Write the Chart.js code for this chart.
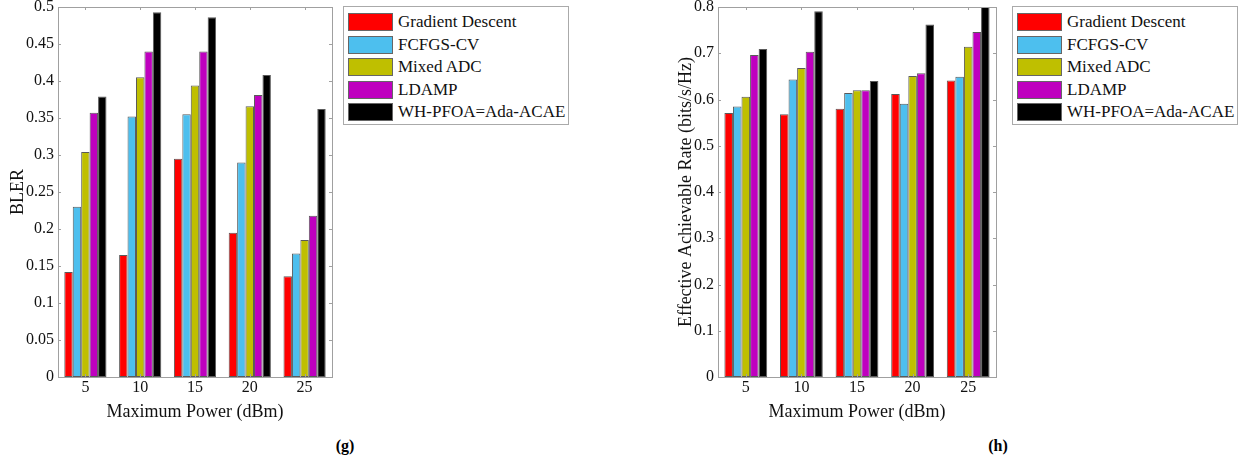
<!DOCTYPE html>
<html>
<head>
<meta charset="utf-8">
<script src="https://cdn.jsdelivr.net/npm/chart.js@4/dist/chart.umd.min.js"></script>
<style>
body { margin: 0; background: #fff; font-family: "Liberation Serif", serif; }
#page { position: relative; width: 1241px; height: 460px; }
.box { position: absolute; }
.legend { position: absolute; border: 1px solid #aaa; background: #fff; box-sizing: border-box; }
.row { position: absolute; left: 4px; height: 18px; display: flex; align-items: center; }
.sw { width: 45px; height: 18px; box-sizing: border-box; border: 1px solid #666; margin-right: 5px; }
.row span { font-size: 17px; color: #111; white-space: nowrap; }
.cap { position: absolute; font-weight: bold; font-size: 16px; line-height: 18px; transform: translateX(-50%); }
</style>
</head>
<body>
<div id="page">
  <div class="box" style="left:0;top:0;width:340px;height:425px"><canvas id="blerChart"></canvas></div>
  <div class="box" style="left:660px;top:0;width:340px;height:425px"><canvas id="rateChart"></canvas></div>
  <div class="legend" id="legendG" style="left:343px;top:6px;width:226px;height:119px"></div>
  <div class="legend" id="legendH" style="left:1012px;top:6px;width:226px;height:119px"></div>
  <div class="cap" style="left:345px;top:437px">(g)</div>
  <div class="cap" style="left:998px;top:437px">(h)</div>
</div>
<script>
// data
const powers = ["5", "10", "15", "20", "25"];
const methods = ["Gradient Descent", "FCFGS-CV", "Mixed ADC", "LDAMP", "WH-PFOA=Ada-ACAE"];
const colors = ["#ff0000", "#4dbfee", "#bfbf00", "#bf00bf", "#000000"];

// BLER (g)
const blerGD    = [0.142, 0.165, 0.295, 0.195, 0.136];
const blerFCFGS = [0.230, 0.352, 0.355, 0.290, 0.167];
const blerMixed = [0.304, 0.405, 0.394, 0.366, 0.185];
const blerLDAMP = [0.357, 0.440, 0.440, 0.381, 0.218];
const blerWH    = [0.379, 0.493, 0.486, 0.408, 0.362];

// Effective achievable rate (h)
const rateGD    = [0.571, 0.568, 0.580, 0.612, 0.641];
const rateFCFGS = [0.585, 0.643, 0.614, 0.591, 0.649];
const rateMixed = [0.606, 0.668, 0.620, 0.651, 0.714];
const rateLDAMP = [0.696, 0.703, 0.620, 0.657, 0.746];
const rateWH    = [0.709, 0.791, 0.640, 0.762, 0.800];

const serif = "'Liberation Serif', 'Times New Roman', serif";

// matlab style box with inward ticks
const framePlugin = {
    id: "frame",
    afterDraw(chart) {
        const ctx = chart.ctx;
        const a = chart.chartArea;
        const xs = chart.scales.x;
        const ys = chart.scales.y;
        ctx.save();
        ctx.strokeStyle = "#a0a0a0";
        ctx.lineWidth = 1;
        ctx.strokeRect(Math.round(a.left) + 0.5, Math.round(a.top) + 0.5,
            Math.round(a.right - a.left), Math.round(a.bottom - a.top));
        ctx.beginPath();
        xs.ticks.forEach((t, i) => {
            const px = Math.round(xs.getPixelForTick(i)) + 0.5;
            ctx.moveTo(px, a.bottom); ctx.lineTo(px, a.bottom - 3);
            ctx.moveTo(px, a.top); ctx.lineTo(px, a.top + 3);
        });
        ys.ticks.forEach(t => {
            const py = Math.round(ys.getPixelForValue(t.value)) + 0.5;
            ctx.moveTo(a.left, py); ctx.lineTo(a.left + 3, py);
            ctx.moveTo(a.right, py); ctx.lineTo(a.right - 3, py);
        });
        ctx.stroke();
        ctx.restore();
    }
};

function makeDatasets(series) {
    return series.map((vals, i) => ({
        label: methods[i],
        data: vals,
        backgroundColor: colors[i],
        borderColor: "#5a5a5a",
        borderWidth: 1,
        borderSkipped: false,
        barPercentage: 1,
        categoryPercentage: 0.77
    }));
}

function makeChart(id, series, yTitle, yMax, yStep, padLeft, yWidth, padRight) {
    return new Chart(document.getElementById(id), {
        type: "bar",
        data: { labels: powers, datasets: makeDatasets(series) },
        plugins: [framePlugin],
        options: {
            responsive: true,
            maintainAspectRatio: false,
            animation: false,
            layout: { padding: { left: padLeft, top: 7, right: padRight, bottom: 0 } },
            plugins: { legend: { display: false }, tooltip: { enabled: false } },
            scales: {
                x: {
                    grid: { display: false, drawTicks: false },
                    border: { display: false },
                    ticks: { color: "#111", font: { family: serif, size: 16 }, padding: 1 },
                    title: { display: true, text: "Maximum Power (dBm)", color: "#111",
                        font: { family: serif, size: 18, lineHeight: 1 }, padding: { top: 0, bottom: 4 } },
                    afterFit: s => { s.height = 48; s.paddingLeft = 0; s.paddingRight = 0; }
                },
                y: {
                    min: 0,
                    max: yMax,
                    grid: { display: false, drawTicks: false },
                    border: { display: false },
                    ticks: {
                        stepSize: yStep, color: "#111", font: { family: serif, size: 16 }, padding: 4,
                        callback: v => String(+v.toFixed(2))
                    },
                    title: { display: true, text: yTitle, color: "#111",
                        font: { family: serif, size: 18, lineHeight: 1 }, padding: 0 },
                    afterFit: s => { s.width = yWidth; s.paddingTop = 0; s.paddingBottom = 0; }
                }
            }
        }
    });
}

makeChart("blerChart", [blerGD, blerFCFGS, blerMixed, blerLDAMP, blerWH], "BLER", 0.5, 0.05, 9, 49, 8);
makeChart("rateChart", [rateGD, rateFCFGS, rateMixed, rateLDAMP, rateWH],
    "Effective Achievable Rate (bits/s/Hz)", 0.8, 0.1, 17, 41, 4);

// html legends
function buildLegend(id) {
    const box = document.getElementById(id);
    methods.forEach((name, i) => {
        const row = document.createElement("div");
        row.className = "row";
        row.style.top = (6 + i * 22.6) + "px";
        row.innerHTML = `<div class="sw" style="background:${colors[i]}"></div><span>${name}</span>`;
        box.appendChild(row);
    });
}
buildLegend("legendG");
buildLegend("legendH");
</script>
</body>
</html>
